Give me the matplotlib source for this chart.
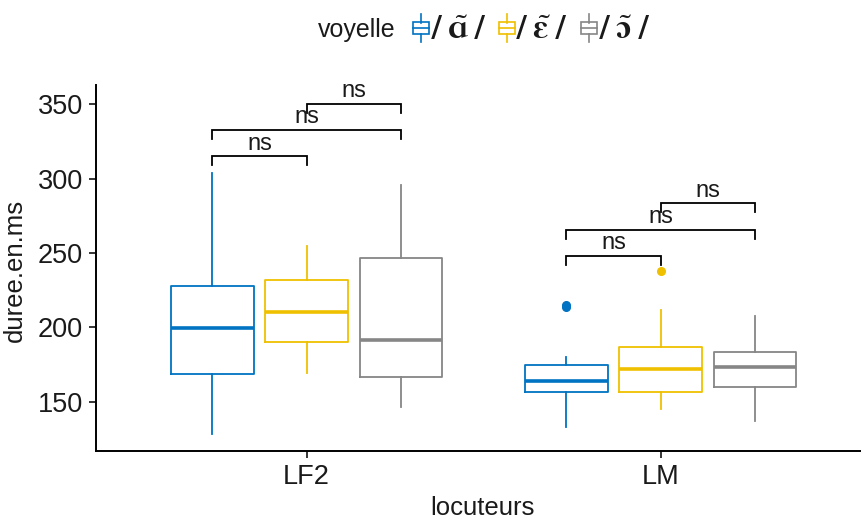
import matplotlib
matplotlib.use("Agg")
import matplotlib.pyplot as plt
from matplotlib.patches import Rectangle
from matplotlib.lines import Line2D

# ---- data -------------------------------------------------------------
speakers = ["LF2", "LM"]
vowels = ["/ɑ̃/", "/ɛ̃/", "/ɔ̃/"]
colors = ["#0073C2", "#EFC000", "#868686"]

# box statistics per speaker, one entry per vowel: (low whisker, Q1, median, Q3, high whisker)
lf2_stats = [(128, 168.6, 199.5, 228, 304),
             (169, 190.3, 210, 232, 255),
             (146.6, 166.3, 191.7, 246.3, 295.6)]
lm_stats = [(132.7, 156.3, 163.6, 174.9, 179.8),
            (145, 156.3, 172, 186.5, 211.6),
            (136.8, 159.6, 173, 183.1, 207.8)]
lf2_outliers = [[], [], []]
lm_outliers = [[213.5, 215], [238], []]

# pairwise comparisons: (vowel index a, vowel index b, bracket height, label)
lf2_tests = [(0, 1, 315, "ns"), (0, 2, 332.8, "ns"), (1, 2, 350.5, "ns")]
lm_tests = [(0, 1, 248, "ns"), (0, 2, 265.6, "ns"), (1, 2, 283.4, "ns")]

y_ticks = [150, 200, 250, 300, 350]

# ---- figure -----------------------------------------------------------
W, H = 862, 520
fig = plt.figure(figsize=(W / 100, H / 100), dpi=100)
ax = fig.add_axes([95.7 / W, 1 - 451 / H, (W - 95.7) / W, (451 - 85) / H])

sans = "Liberation Sans"
ink = "#1a1a1a"
fs_tick = 19.5
fs_label = 18.5
fs_ns = 17
dodge = 0.8 / 3
box_w = 0.233

all_stats = [lf2_stats, lm_stats]
all_out = [lf2_outliers, lm_outliers]
all_tests = [lf2_tests, lm_tests]

for si, (stats, outs) in enumerate(zip(all_stats, all_out)):
    center = si + 1
    for vi, (st, fl) in enumerate(zip(stats, outs)):
        c = colors[vi]
        pos = center + (vi - 1) * dodge
        bstat = dict(whislo=st[0], q1=st[1], med=st[2], q3=st[3], whishi=st[4], fliers=fl)
        ax.bxp([bstat], positions=[pos], widths=box_w, showcaps=False,
               boxprops=dict(color=c, linewidth=1.3),
               whiskerprops=dict(color=c, linewidth=1.3),
               medianprops=dict(color=c, linewidth=2.6, solid_capstyle="butt"),
               flierprops=dict(marker="o", markerfacecolor=c, markeredgecolor=c,
                               markersize=5.5, linestyle="none"))

# significance brackets
tick_len = 6
for si, tests in enumerate(all_tests):
    center = si + 1
    for a, b, y, lab in tests:
        xa = center + (a - 1) * dodge
        xb = center + (b - 1) * dodge
        ax.plot([xa, xa, xb, xb], [y - tick_len, y, y, y - tick_len],
                color="black", linewidth=1.3, solid_joinstyle="miter")
        ax.text((xa + xb) / 2, y + 1.2, lab, ha="center", va="bottom",
                fontsize=fs_ns, family=sans, color=ink)

ax.set_xlim(0.404, 0.404 + (W - 95.7) / 354)
ax.set_ylim(116.8, 363.0)
ax.set_xticks([1, 2])
ax.set_xticklabels(speakers)
ax.set_yticks(y_ticks)
for lbl in ax.get_xticklabels() + ax.get_yticklabels():
    lbl.set_family(sans)
    lbl.set_fontsize(fs_tick)
    lbl.set_color(ink)
ax.tick_params(direction="out", length=5, width=1.1, color="black", pad=4)

for side in ["top", "right"]:
    ax.spines[side].set_visible(False)
for side in ["left", "bottom"]:
    ax.spines[side].set_linewidth(1.4)
    ax.spines[side].set_color("black")

fig.text(482 / W, 1 - 508 / H, "locuteurs", ha="center", va="center",
         fontsize=fs_label, family=sans, color=ink)
fig.text(15 / W, 1 - 270 / H, "duree.en.ms", ha="center", va="center", rotation=90,
         fontsize=fs_label, family=sans, color=ink)


# ---- legend at the top --------------------------------------------------
def px(x, y):
    return x / W, 1 - y / H


def as_math(label):
    """Bold serif mathtext for a phonetic label; combining tildes become accents."""
    parts = []
    chars = list(label)
    i = 0
    while i < len(chars):
        ch = chars[i]
        if i + 1 < len(chars) and chars[i + 1] == "\u0303":
            parts.append(r"\tilde{\mathbf{%s}}" % ch)
            i += 2
        else:
            parts.append(r"\mathbf{%s}" % ch)
            i += 1
    return "$" + r"\;".join(parts) + "$"


fig.text(*px(318, 30), "voyelle", ha="left", va="center", fontsize=18,
         family=sans, color=ink)
key_x = [413, 499, 581]
lab_x = [431, 516, 599]
for kx, lx, c, v in zip(key_x, lab_x, colors, vowels):
    bw, bh = 16, 11
    cx, cy = kx + bw / 2, 28
    x0, y0 = px(kx, cy + bh / 2)
    fig.add_artist(Rectangle((x0, y0), bw / W, bh / H, transform=fig.transFigure,
                             fill=False, edgecolor=c, linewidth=1.2))
    fig.add_artist(Line2D([kx / W, (kx + bw) / W], [1 - cy / H] * 2,
                          transform=fig.transFigure, color=c, linewidth=1.2))
    fig.add_artist(Line2D([cx / W] * 2, [1 - 14 / H, 1 - (cy - bh / 2) / H],
                          transform=fig.transFigure, color=c, linewidth=1.2))
    fig.add_artist(Line2D([cx / W] * 2, [1 - (cy + bh / 2) / H, 1 - 42 / H],
                          transform=fig.transFigure, color=c, linewidth=1.2))
    fig.text(*px(lx, 29), as_math(v), ha="left", va="center", fontsize=24,
             math_fontfamily="stix", color=ink)

fig.savefig("out.png", dpi=100)
